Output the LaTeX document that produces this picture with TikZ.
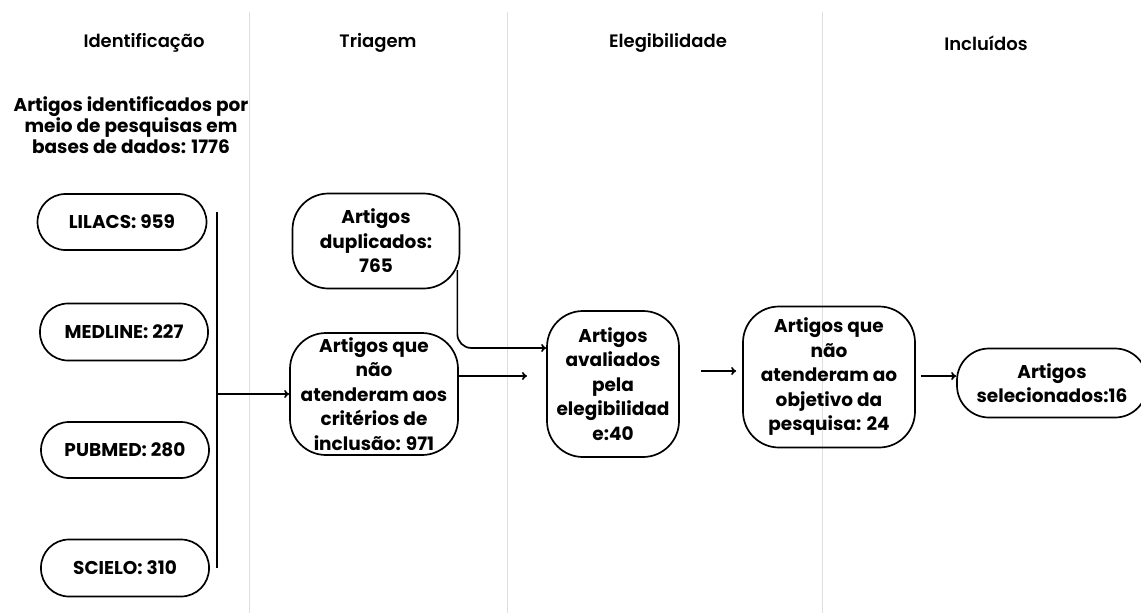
\documentclass[tikz,border=0pt]{standalone}
\usepackage{fontspec}
\setmainfont{Poppins}
\newfontfamily\psemi{Poppins SemiBold}
\usetikzlibrary{arrows.meta}
\begin{document}
\begin{tikzpicture}[x=1pt,y=-1pt,
  box/.style={draw=black,line width=1.7pt,align=center,font=\bfseries\fontsize{18.5}{24.5}\selectfont,inner sep=0pt},
  head/.style={font=\psemi\fontsize{18}{20}\selectfont},
  sep/.style={draw=black!13,line width=0.9pt},
  conn/.style={draw=black,line width=1.7pt},
  arr/.style={conn,-{To[length=5pt,width=8pt]}}]
\useasboundingbox (0,0) rectangle (1141,613);
\fill[white] (0,0) rectangle (1141,613);
% separators
\draw[sep] (249,12) -- (249,613);
\draw[sep] (507,12) -- (507,613);
\draw[sep] (822,12) -- (822,613);
% headers
\node[head] (h1) at (144,43) {Identificação};
\node[head] (h2) at (378,43) {Triagem};
\node[head] (h3) at (668,43) {Elegibilidade};
\node[head] (h4) at (986,43) {Incluídos};
% title
\node[align=center,font=\bfseries\fontsize{18.5}{21}\selectfont] (t) at (131,125) {Artigos identificados por\\meio de pesquisas em\\bases de dados: 1776};
% source boxes
\node[box,minimum width=169pt,minimum height=56pt,rounded corners=28pt] (lil) at (122,222) {LILACS: 959};
\node[box,minimum width=168pt,minimum height=57pt,rounded corners=28pt] (med) at (124,332) {MEDLINE: 227};
\node[box,minimum width=168pt,minimum height=56pt,rounded corners=28pt] (pub) at (125,450) {PUBMED: 280};
\node[box,minimum width=168pt,minimum height=57pt,rounded corners=28pt] (sci) at (125,568) {SCIELO: 310};
% bus
\coordinate (bt) at (217,212);
\coordinate (bb) at (217,568);
\coordinate (bm) at (217,394);
\draw[conn] (bt) -- (bb);
% triagem
\node[box,minimum width=167pt,minimum height=95pt,rounded corners=36pt] (dup) at (376,241) {Artigos\\duplicados:\\765};
\node[box,minimum width=168pt,minimum height=122pt,rounded corners=36pt] (crit) at (374,394) {Artigos que\\não\\atenderam aos\\critérios de\\inclusão: 971};
\draw[arr] (bm) -- (crit.west);
% elegibilidade
\node[box,minimum width=132pt,minimum height=146pt,rounded corners=36pt] (aval) at (613,384) {Artigos\\avaliados\\pela\\elegibilidad\\e:40};
\node[box,minimum width=172pt,minimum height=141pt,rounded corners=36pt] (neg) at (829,377) {Artigos que\\não\\atenderam ao\\objetivo da\\pesquisa: 24};
% incluidos
\node[box,minimum width=190pt,minimum height=69pt,rounded corners=32pt] (sel) at (1052,383) {Artigos\\selecionados:16};
% connectors
\draw[arr,rounded corners=14pt] ([xshift=-3pt,yshift=-29pt]dup.east) |- ([yshift=36pt]aval.west);
\coordinate (c1) at (527,376);
\draw[arr] ([yshift=18pt]crit.east) -- (c1);
\draw[arr] ([xshift=21pt,yshift=13pt]aval.east) -- ([xshift=-6pt,yshift=6pt]neg.west);
\draw[arr] ([xshift=5pt,yshift=1pt]neg.east) -- ([yshift=7pt]sel.west);
\end{tikzpicture}
\end{document}
